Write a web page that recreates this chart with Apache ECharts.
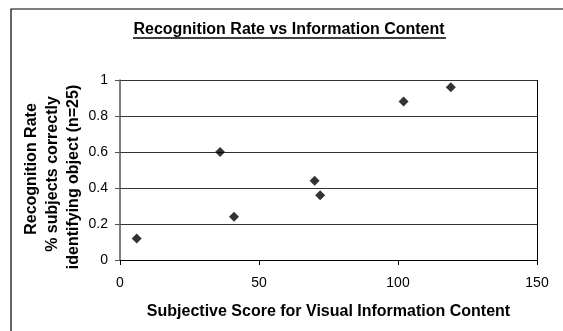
<!DOCTYPE html>
<html>
<head>
<meta charset="utf-8">
<script src="https://cdn.jsdelivr.net/npm/echarts@6/dist/echarts.min.js"></script>
<style>
  html, body { margin: 0; padding: 0; background: #fff; }
  #chart { width: 563px; height: 331px; }
</style>
</head>
<body>
<div id="chart"></div>
<script>
// data
const scores = [6, 36, 41, 70, 72, 102, 119]
const rates = [0.12, 0.6, 0.24, 0.44, 0.36, 0.88, 0.96]
const xTicks = [0, 50, 100, 150]
const yTicks = [0, 0.2, 0.4, 0.6, 0.8, 1]
const yNameLines = ["Recognition Rate", "% subjects correctly", "identifying object (n=25)"]

const chart = echarts.init(document.getElementById("chart"))

const font = "Liberation Sans, Arial, sans-serif"

// y axis title, one rotated text per line
const yNameX = [32, 53, 74]
const yNameY = [169, 174, 177]
const yNameText = yNameLines.map((t, i) => ({
  type: "text",
  x: yNameX[i],
  y: yNameY[i],
  rotation: Math.PI / 2,
  style: {
    text: t,
    fill: "#000",
    font: "bold 16px " + font,
    textAlign: "center",
    textVerticalAlign: "middle",
  },
}))

const option = {
  backgroundColor: "#fff",
  animation: false,
  textStyle: { fontFamily: font },
  title: {
    text: "Recognition Rate vs Information Content",
    left: 284,
    textAlign: "center",
    top: 17,
    textStyle: {
      fontSize: 16,
      fontWeight: "bold",
      color: "#000",
      fontFamily: font,
    },
  },
  grid: { left: 120, right: 26, top: 80, bottom: 71 },
  xAxis: {
    type: "value",
    min: xTicks[0],
    max: xTicks[xTicks.length - 1],
    interval: 50,
    name: "Subjective Score for Visual Information Content",
    nameLocation: "middle",
    nameGap: 44,
    nameTextStyle: { fontSize: 16, fontWeight: "bold", color: "#000" },
    axisLine: { onZero: false, lineStyle: { color: "#000", width: 1 } },
    axisTick: { show: true, inside: false, length: 5, lineStyle: { color: "#000" } },
    axisLabel: { fontSize: 14, color: "#000", margin: 16 },
    splitLine: { show: false },
  },
  yAxis: {
    type: "value",
    min: yTicks[0],
    max: yTicks[yTicks.length - 1],
    interval: 0.2,
    axisLine: { show: true, lineStyle: { color: "#555", width: 1.5 } },
    axisTick: { show: true, inside: false, length: 5, lineStyle: { color: "#555" } },
    axisLabel: { fontSize: 14, color: "#000", margin: 12 },
    splitLine: { show: true, lineStyle: { color: "#333", width: 1 } },
  },
  graphic: [
    // title underline
    {
      type: "line",
      shape: { x1: 133, y1: 38, x2: 446, y2: 38 },
      style: { stroke: "#000", lineWidth: 1.3 },
    },
    // right edge of plot
    {
      type: "line",
      shape: { x1: 537.5, y1: 80, x2: 537.5, y2: 260 },
      style: { stroke: "#000", lineWidth: 1 },
    },
    // outer frame
    {
      type: "rect",
      shape: { x: 11, y: 9, width: 600, height: 400 },
      style: { fill: "none", stroke: "#000", lineWidth: 1.2 },
    },
  ].concat(yNameText),
  series: [
    {
      type: "scatter",
      symbol: "diamond",
      symbolSize: 10,
      itemStyle: { color: "#000" },
      data: scores.map((s, i) => [s, rates[i]]),
    },
  ],
}

chart.setOption(option)
</script>
</body>
</html>
